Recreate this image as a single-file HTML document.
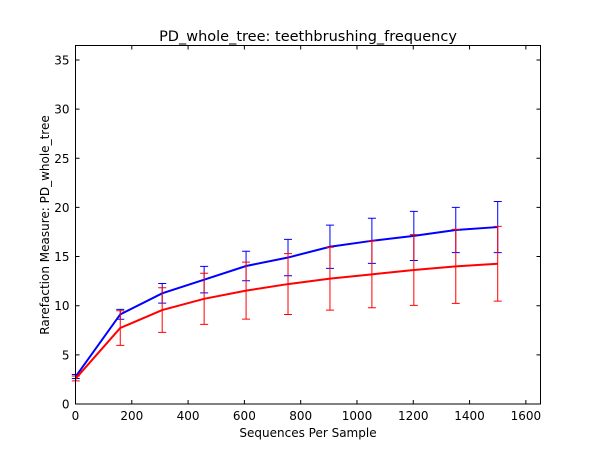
<!DOCTYPE html>
<html><head><meta charset="utf-8"><style>
html,body{margin:0;padding:0;background:#fff;}
svg{display:block;font-family:"DejaVu Sans","Liberation Sans",sans-serif;}
</style></head><body>
<svg id="chart" width="600" height="450">
<rect width="600" height="450" fill="#fff"/>
<text x="308" y="41" text-anchor="middle" font-size="14.5">PD_whole_tree: teethbrushing_frequency</text>
<text x="308" y="437" text-anchor="middle" font-size="12">Sequences Per Sample</text>
<text transform="translate(49,225) rotate(-90)" text-anchor="middle" font-size="12">Rarefaction Measure: PD_whole_tree</text>
<g id="plot"></g>
</svg>
<script>
const xs = [1, 159, 308, 457, 606, 755, 904, 1053, 1202, 1351, 1500];
const blueMean = [2.8, 9.12, 11.26, 12.65, 14.04, 14.9, 16.0, 16.6, 17.1, 17.7, 18.0];
const blueErr = [0.2, 0.5, 1.0, 1.35, 1.5, 1.85, 2.2, 2.3, 2.5, 2.3, 2.6];
const redMean = [2.6, 7.73, 9.56, 10.7, 11.53, 12.2, 12.75, 13.19, 13.63, 14.0, 14.27];
const redErr = [0.25, 1.76, 2.27, 2.6, 2.9, 3.1, 3.2, 3.4, 3.6, 3.76, 3.8];
const xTicks = [0, 200, 400, 600, 800, 1000, 1200, 1400, 1600];
const yTicks = [0, 5, 10, 15, 20, 25, 30, 35];

const L = 75.5, R = 540.5, T = 45.5, B = 404;
const XMAX = 1652, YMAX = 36.47;
const sx = v => L + v / XMAX * (R - L);
const sy = v => B - v / YMAX * (B - T);
const NS = 'http://www.w3.org/2000/svg';
const g = document.getElementById('plot');
function mk(tag, attrs) {
  const e = document.createElementNS(NS, tag);
  for (const k in attrs) e.setAttribute(k, attrs[k]);
  g.appendChild(e);
  return e;
}
function series(mean, err, color, name) {
  const pts = xs.map((x, i) => sx(x) + ',' + sy(mean[i])).join(' ');
  const pl = mk('polyline', {points: pts, fill: 'none', stroke: color, 'stroke-width': 2});
  
  
  xs.forEach((x, i) => {
    const X = sx(x), y1 = sy(mean[i] + err[i]), y2 = sy(mean[i] - err[i]);
    const eb = mk('path', {d: `M${X},${y1}V${y2}M${X-4},${y1}H${X+4}M${X-4},${y2}H${X+4}`, stroke: color, 'stroke-width': 1, fill: 'none'});
    
    
  });
}
series(blueMean, blueErr, '#0000ff', 'blue-series');
series(redMean, redErr, '#ff0000', 'red-series');
const frame = mk('rect', {x: L, y: T, width: R - L, height: B - T, fill: 'none', stroke: '#000', 'stroke-width': 1});


xTicks.forEach(t => {
  const X = sx(t);
  const tk = mk('path', {d: `M${X},${B}V${B-4}M${X},${T}V${T+4}`, stroke: '#000', 'stroke-width': 1});
  
  
  const lb = mk('text', {x: X, y: B + 16, 'text-anchor': 'middle', 'font-size': 12});
  lb.textContent = t;
  
  
});
yTicks.forEach(t => {
  const Y = sy(t);
  const tk = mk('path', {d: `M${L},${Y}H${L+4}M${R},${Y}H${R-4}`, stroke: '#000', 'stroke-width': 1});
  
  
  const lb = mk('text', {x: L - 6, y: Y + 4.5, 'text-anchor': 'end', 'font-size': 12});
  lb.textContent = t;
  
  
});
</script>
</body></html>
